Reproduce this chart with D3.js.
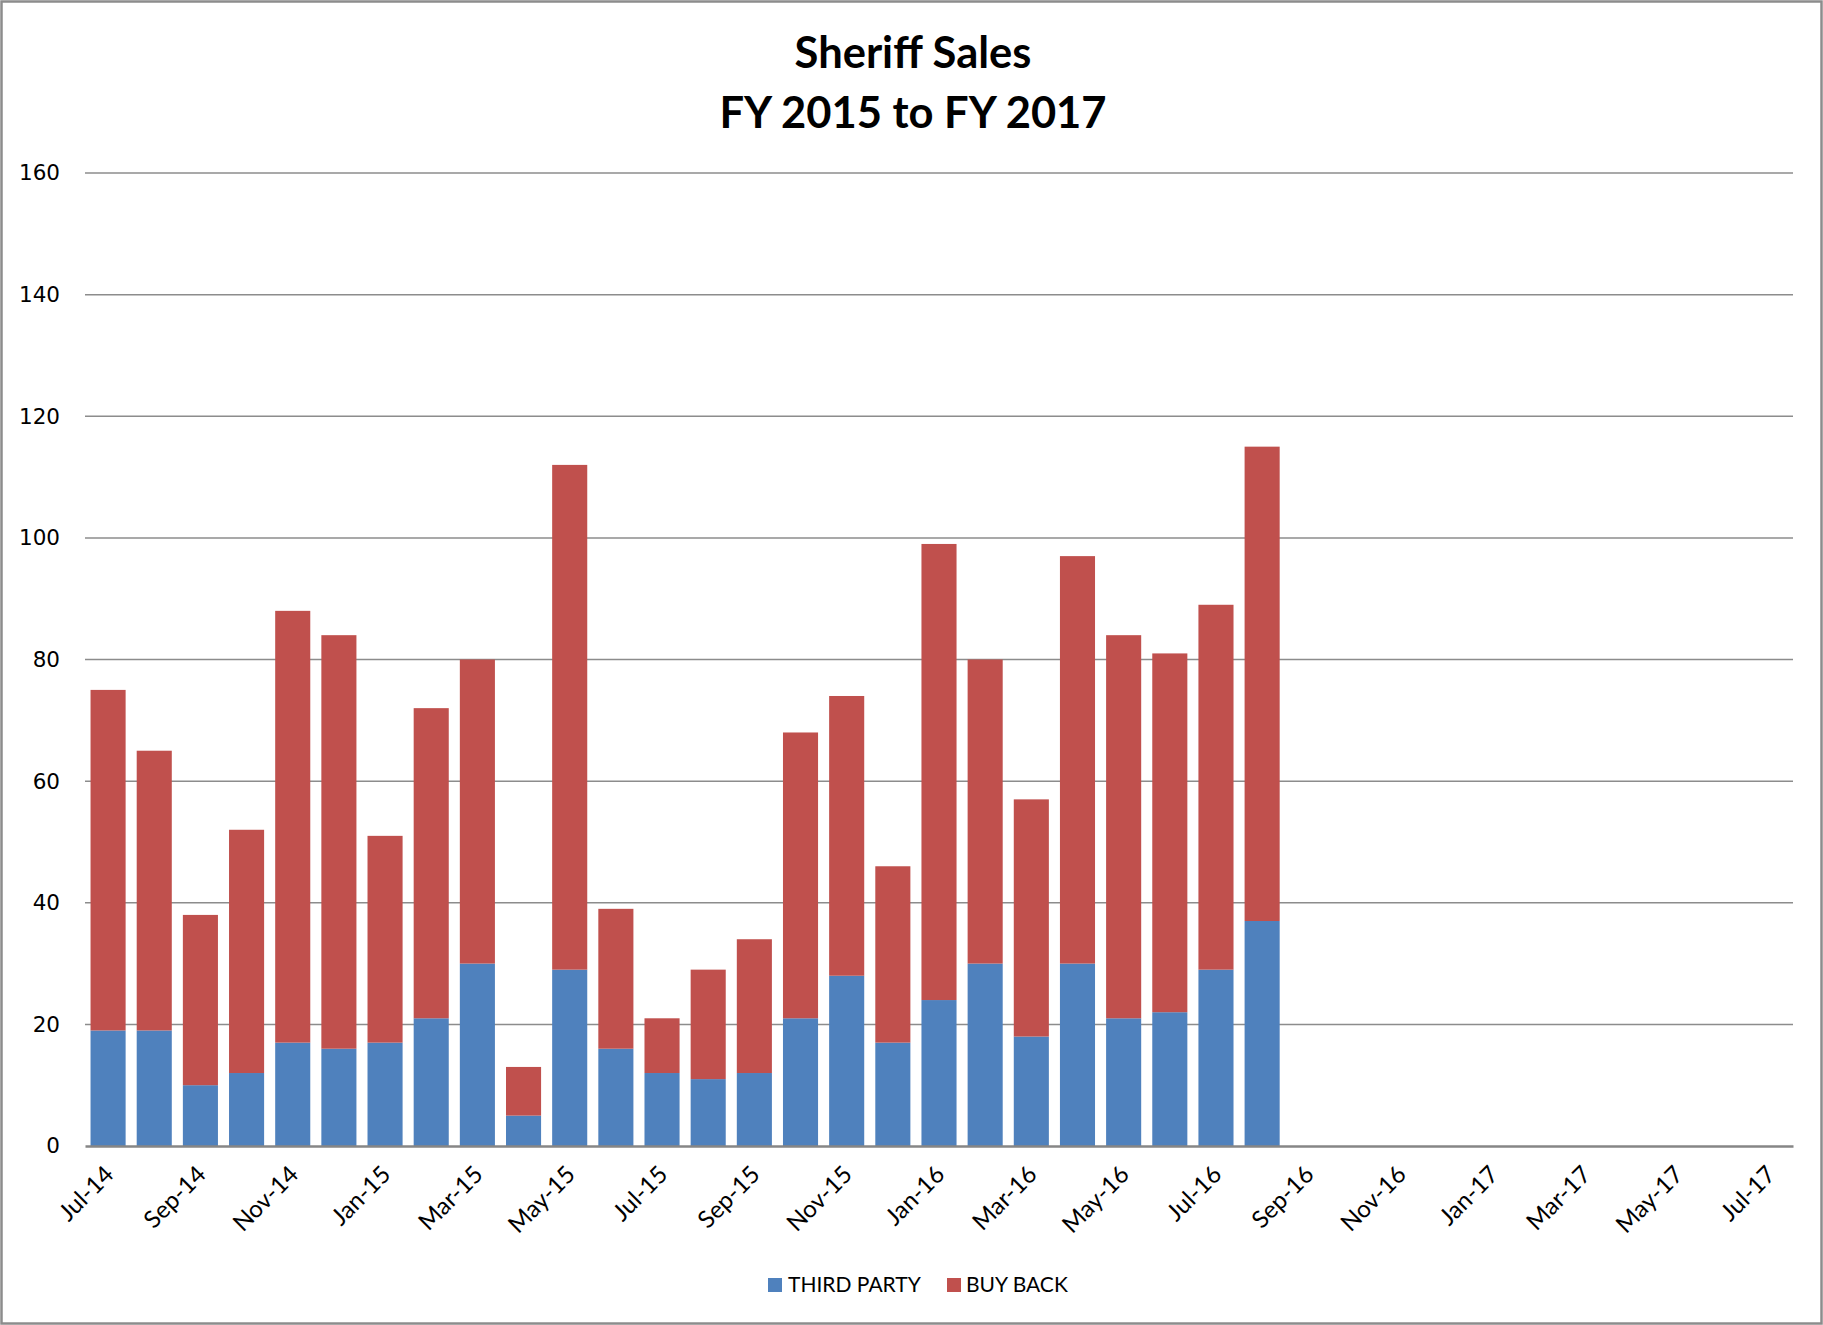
<!DOCTYPE html>
<html>
<head>
<meta charset="utf-8">
<script src="https://cdn.jsdelivr.net/npm/d3@7"></script>
<style>
  html, body { margin: 0; padding: 0; background: #fff; }
  svg { display: block; }
</style>
</head>
<body>
<script>
// Monthly sheriff sales, split by purchaser type
const months = [
  "Jul-14","Aug-14","Sep-14","Oct-14","Nov-14","Dec-14",
  "Jan-15","Feb-15","Mar-15","Apr-15","May-15","Jun-15",
  "Jul-15","Aug-15","Sep-15","Oct-15","Nov-15","Dec-15",
  "Jan-16","Feb-16","Mar-16","Apr-16","May-16","Jun-16",
  "Jul-16","Aug-16","Sep-16","Oct-16","Nov-16","Dec-16",
  "Jan-17","Feb-17","Mar-17","Apr-17","May-17","Jun-17","Jul-17"
];
const thirdParty = [19,19,10,12,17,16,17,21,30,5,29,16,12,11,12,21,28,17,24,30,18,30,21,22,29,37];
const buyBack    = [56,46,28,40,71,68,34,51,50,8,83,23,9,18,22,47,46,29,75,50,39,67,63,59,60,78];
const seriesNames = ["THIRD PARTY", "BUY BACK"];
const seriesColors = ["#4F81BD", "#C0504D"];
const yTicks = [0,20,40,60,80,100,120,140,160];
const titleLines = ["Sheriff Sales", "FY 2015 to FY 2017"];

const W = 1823, H = 1325;
const plot = { left: 85, right: 1793, top: 173, bottom: 1146 };

const svg = d3.select("body").append("svg")
  .attr("width", W).attr("height", H);

// chart frame
svg.append("rect")
  .attr("x", 1.5).attr("y", 1.5)
  .attr("width", W - 3).attr("height", H - 3)
  .attr("fill", "#fff").attr("stroke", "#8c8c8c").attr("stroke-width", 2.5);

// title
svg.append("g").selectAll("text").data(titleLines).join("text")
  .attr("x", 913).attr("y", (d, i) => 68 + i * 60)
  .attr("text-anchor", "middle")
  .attr("font-family", "Lato, 'Open Sans', sans-serif")
  .attr("font-weight", "bold")
  .attr("font-size", 43.5)
  .attr("fill", "#000")
  .text(d => d);

const x = d3.scaleBand()
  .domain(months)
  .range([plot.left, plot.right])
  .paddingInner(0.24)
  .paddingOuter(0.12);

const y = d3.scaleLinear()
  .domain([0, 160])
  .range([plot.bottom, plot.top]);

// horizontal gridlines
svg.append("g").selectAll("line").data(yTicks.filter(v => v > 0)).join("line")
  .attr("x1", plot.left).attr("x2", plot.right)
  .attr("y1", d => y(d)).attr("y2", d => y(d))
  .attr("stroke", "#8c8c8c").attr("stroke-width", 1.5);

// y axis labels
const yAxis = d3.axisLeft(y).tickValues(yTicks).tickSize(0).tickPadding(0);
const yg = svg.append("g").attr("transform", `translate(${plot.left - 25},0)`).call(yAxis);
yg.select(".domain").remove();
yg.selectAll("text")
  .attr("font-family", "'DejaVu Sans', Verdana, sans-serif")
  .attr("font-size", 21.5)
  .attr("fill", "#000");

// stacked bars
const rows = thirdParty.map((v, i) => ({ month: months[i], tp: v, bb: buyBack[i] }));
const stacked = d3.stack().keys(["tp", "bb"])(rows);

svg.append("g").selectAll("g").data(stacked).join("g")
  .attr("fill", (d, i) => seriesColors[i])
  .selectAll("rect").data(d => d).join("rect")
  .attr("x", d => x(d.data.month))
  .attr("width", x.bandwidth())
  .attr("y", d => y(d[1]))
  .attr("height", d => y(d[0]) - y(d[1]));

// category axis
const xAxis = d3.axisBottom(x)
  .tickValues(months.filter((m, i) => i % 2 === 0))
  .tickSize(0).tickPadding(0).tickSizeOuter(0);
const xg = svg.append("g").attr("transform", `translate(0,${plot.bottom})`).call(xAxis);
xg.select(".domain").attr("stroke", "#868686").attr("stroke-width", 2.5);
xg.selectAll("text")
  .attr("font-family", "Lato, 'Open Sans', sans-serif")
  .attr("font-size", 24)
  .attr("fill", "#000")
  .attr("text-anchor", "end")
  .attr("dy", 0)
  .attr("y", 0)
  .attr("transform", "translate(7,30) rotate(-45)");

// legend
const legendItems = [
  { name: seriesNames[0], color: seriesColors[0], sx: 768, tx: 788 },
  { name: seriesNames[1], color: seriesColors[1], sx: 947, tx: 966 }
];
const lg = svg.append("g");
lg.selectAll("rect").data(legendItems).join("rect")
  .attr("x", d => d.sx).attr("y", 1278)
  .attr("width", 14).attr("height", 14)
  .attr("fill", d => d.color);
lg.selectAll("text").data(legendItems).join("text")
  .attr("x", d => d.tx).attr("y", 1292)
  .attr("font-family", "Lato, 'Open Sans', sans-serif")
  .attr("font-size", 21)
  .attr("fill", "#000")
  .text(d => d.name);
</script>
</body>
</html>
